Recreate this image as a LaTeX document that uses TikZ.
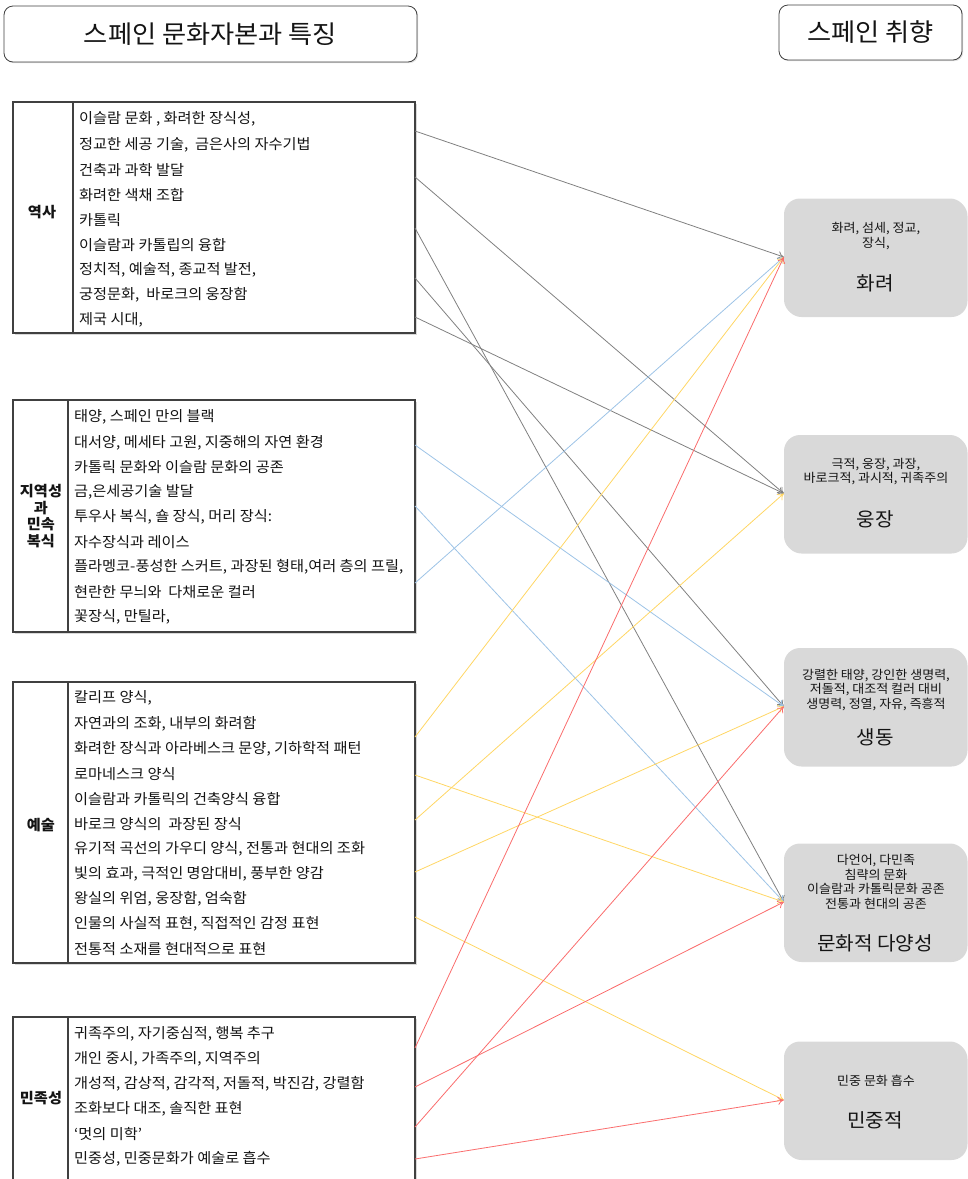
\documentclass[tikz,border=0pt]{standalone}
\usepackage{fontspec}
\setmainfont[FakeStretch=1.05]{Noto Sans CJK KR}
\usetikzlibrary{arrows.meta,shadows}
\definecolor{cgray}{RGB}{128,128,128}
\definecolor{cblue}{RGB}{157,195,230}
\definecolor{cyellow}{RGB}{255,214,100}
\definecolor{cred}{RGB}{250,108,108}
\definecolor{boxgray}{RGB}{217,217,217}
\definecolor{framec}{RGB}{64,64,64}
\definecolor{txt}{RGB}{20,20,20}
\begin{document}
\begin{tikzpicture}[x=1pt,y=-1pt,
  titlebox/.style={draw=framec, line width=0.8pt, fill=white, rounded corners=9pt,
    drop shadow={opacity=0.25,shadow xshift=1.2pt,shadow yshift=-1.2pt},
    font=\fontsize{25}{28}\selectfont, text=txt},
  srcbox/.style={draw=framec, line width=1.3pt, fill=white,
    drop shadow={opacity=0.3,shadow xshift=1.5pt,shadow yshift=-1.5pt}},
  item/.style={anchor=west, inner sep=0pt, font=\fontsize{14.5}{17}\selectfont, text=txt},
  lbl/.style={align=center, inner sep=0pt, font=\fontsize{14.5}{16.5}\selectfont\bfseries, text=txt},
  tgt/.style={fill=boxgray, rounded corners=16pt, minimum width=182pt, minimum height=117pt,
    drop shadow={opacity=0.3,shadow xshift=1.5pt,shadow yshift=-1.5pt}},
  small/.style={align=center, inner sep=0pt, font=\fontsize{12.4}{14.5}\selectfont, text=txt},
  big/.style={inner sep=0pt, font=\fontsize{19.2}{22}\selectfont, text=txt},
  conn/.style={line width=0.8pt, -{To[length=6pt,width=8pt]}},
  cg/.style={conn, draw=cgray},
  cb/.style={conn, draw=cblue},
  cy/.style={conn, draw=cyellow},
  cr/.style={conn, draw=cred}]
\useasboundingbox (0,0) rectangle (968,1179);
\clip (0,0) rectangle (968,1179);

% titles
\node[titlebox, minimum width=413pt, minimum height=56pt] (H1) at (210.5,34) {스페인 문화자본과 특징};
\node[titlebox, minimum width=183pt, minimum height=55pt] (H2) at (870.5,32.5) {스페인 취향};

% source boxes
\node[srcbox, minimum width=402pt, minimum height=231pt] (B1) at (214,217.5) {};
\draw[framec, line width=1.1pt] (73,102) -- (73,333);
\node[lbl] (L1) at (42,212) {역사};
\node[item] (a1) at (79,119) {이슬람 문화 , 화려한 장식성,};
\node[item] (a2) at (79,145) {정교한 세공 기술,\ \ 금은사의 자수기법};
\node[item] (a3) at (79,170) {건축과 과학 발달};
\node[item] (a4) at (79,195) {화려한 색채 조합};
\node[item] (a5) at (79,220) {카톨릭};
\node[item] (a6) at (79,245) {이슬람과 카톨립의 융합};
\node[item] (a7) at (79,270) {정치적, 예술적, 종교적 발전,};
\node[item] (a8) at (79,295) {궁정문화,\ \ 바로크의 웅장함};
\node[item] (a9) at (79,320) {제국 시대,};

\node[srcbox, minimum width=402pt, minimum height=232pt] (B2) at (214,516) {};
\draw[framec, line width=1.1pt] (68,400) -- (68,632);
\node[lbl] (L2) at (41,516) {지역성\\과\\민속\\복식};
\node[item] (b1) at (74,417) {태양, 스페인 만의 블랙};
\node[item] (b2) at (74,443) {대서양, 메세타 고원, 지중해의 자연 환경};
\node[item] (b3) at (74,467) {카톨릭 문화와 이슬람 문화의 공존};
\node[item] (b4) at (74,492) {금,은세공기술 발달};
\node[item] (b5) at (74,517) {투우사 복식, 숄 장식, 머리 장식:};
\node[item] (b6) at (74,542) {자수장식과 레이스};
\node[item] (b7) at (74,567) {플라멩코-풍성한 스커트, 과장된 형태,여러 층의 프릴,};
\node[item] (b8) at (74,592) {현란한 무늬와\ \ 다채로운 컬러};
\node[item] (b9) at (74,617) {꽃장식, 만틸라,};

\node[srcbox, minimum width=402pt, minimum height=281pt] (B3) at (214,822.5) {};
\draw[framec, line width=1.1pt] (68,682) -- (68,963);
\node[lbl] (L3) at (41,825) {예술};
\node[item] (c1) at (74,698) {칼리프 양식,};
\node[item] (c2) at (74,724) {자연과의 조화, 내부의 화려함};
\node[item] (c3) at (74,749) {화려한 장식과 아라베스크 문양, 기하학적 패턴};
\node[item] (c4) at (74,774) {로마네스크 양식};
\node[item] (c5) at (74,799) {이슬람과 카톨릭의 건축양식 융합};
\node[item] (c6) at (74,824) {바로크 양식의\ \ 과장된 장식};
\node[item] (c7) at (74,849) {유기적 곡선의 가우디 양식, 전통과 현대의 조화};
\node[item] (c8) at (74,874) {빛의 효과, 극적인 명암대비, 풍부한 양감};
\node[item] (c9) at (74,899) {왕실의 위엄, 웅장함, 엄숙함};
\node[item] (c10) at (74,924) {인물의 사실적 표현, 직접적인 감정 표현};
\node[item] (c11) at (74,949) {전통적 소재를 현대적으로 표현};

\node[srcbox, minimum width=402pt, minimum height=166pt] (B4) at (214,1100) {};
\draw[framec, line width=1.1pt] (68,1017) -- (68,1183);
\node[lbl] (L4) at (41,1098) {민족성};
\node[item] (d1) at (74,1034) {귀족주의, 자기중심적, 행복 추구};
\node[item] (d2) at (74,1059) {개인 중시, 가족주의, 지역주의};
\node[item] (d3) at (74,1084) {개성적, 감상적, 감각적, 저돌적, 박진감, 강렬함};
\node[item] (d4) at (74,1109) {조화보다 대조, 솔직한 표현};
\node[item] (d5) at (74,1134) {‘멋의 미학’};
\node[item] (d6) at (74,1159) {민중성, 민중문화가 예술로 흡수};

% target boxes
\node[tgt] (T1) at (875,257) {};
\node[small] (t1s) at (876,236) {화려, 섬세, 정교,\\장식,};
\node[big] (t1b) at (875,283) {화려};
\node[tgt] (T2) at (875,493.5) {};
\node[small] (t2s) at (876,471.5) {극적, 웅장, 과장,\\바로크적, 과시적, 귀족주의};
\node[big] (t2b) at (875,519) {웅장};
\node[tgt] (T3) at (875,706.5) {};
\node[small] (t3s) at (876,690) {강렬한 태양, 강인한 생명력,\\저돌적, 대조적 컬러 대비\\생명력, 정열, 자유, 즉흥적};
\node[big] (t3b) at (875,737) {생동};
\node[tgt] (T4) at (875,902) {};
\node[small] (t4s) at (876,882) {다언어, 다민족\\침략의 문화\\이슬람과 카톨릭문화 공존\\전통과 현대의 공존};
\node[big] (t4b) at (875,943) {문화적 다양성};
\node[tgt] (T5) at (875,1100) {};
\node[small] (t5s) at (876,1081) {민중 문화 흡수};
\node[big] (t5b) at (875,1120) {민중적};

% connector start points on the right edge of the source boxes
\coordinate (g1) at (415,131);
\coordinate (g2) at (415,177);
\coordinate (g3) at (415,228);
\coordinate (g4) at (415,278);
\coordinate (g5) at (415,317);
\coordinate (u1) at (415,445);
\coordinate (u2) at (415,506);
\coordinate (u3) at (415,583);
\coordinate (y1) at (415,737);
\coordinate (y2) at (415,775);
\coordinate (y3) at (415,820);
\coordinate (y4) at (415,872);
\coordinate (y5) at (415,917);
\coordinate (r1) at (415,1048);
\coordinate (r2) at (415,1087);
\coordinate (r3) at (415,1127);
\coordinate (r4) at (415,1159);

\draw[cg] (g1) -- (T1.west);
\draw[cg] (g2) -- (T2.west);
\draw[cg] (g3) -- (T4.west);
\draw[cg] (g4) -- (T3.west);
\draw[cg] (g5) -- (T2.west);
\draw[cb] (u1) -- (T3.west);
\draw[cb] (u2) -- (T4.west);
\draw[cb] (u3) -- (T1.west);
\draw[cy] (y1) -- (T1.west);
\draw[cy] (y2) -- (T4.west);
\draw[cy] (y3) -- (T2.west);
\draw[cy] (y4) -- (T3.west);
\draw[cy] (y5) -- (T5.west);
\draw[cr] (r1) -- (T1.west);
\draw[cr] (r2) -- (T4.west);
\draw[cr] (r3) -- (T3.west);
\draw[cr] (r4) -- (T5.west);
\end{tikzpicture}
\end{document}
